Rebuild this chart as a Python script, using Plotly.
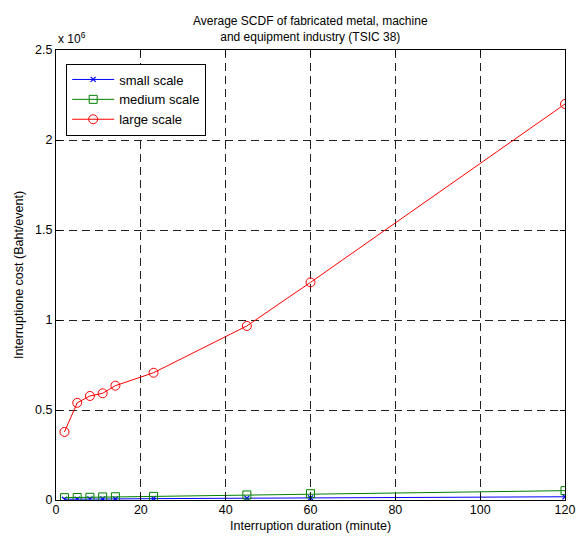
import plotly.graph_objects as go

# Interruption durations (minutes)
duration = [2, 5, 8, 11, 14, 23, 45, 60, 120]

# Average interruption cost per event (Baht)
small_scale = [4000, 5000, 5500, 6000, 6500, 7500, 10000, 12000, 18000]
medium_scale = [13000, 14000, 15000, 17000, 18000, 20000, 28000, 35000, 52000]
large_scale = [378000, 540000, 578000, 593000, 635000, 707000, 967000, 1209000, 2200000]

x_ticks = [0, 20, 40, 60, 80, 100, 120]
y_ticks = [0, 500000, 1000000, 1500000, 2000000, 2500000]
y_tick_text = ["0", "0.5", "1", "1.5", "2", "2.5"]

FONT = "Liberation Sans, Arial, sans-serif"

fig = go.Figure()
fig.add_trace(go.Scatter(
    x=duration, y=small_scale, name="small scale", mode="lines+markers",
    line=dict(color="#0000ff", width=1),
    marker=dict(symbol="x-thin", size=5, line=dict(color="#0000ff", width=1.2)),
))
fig.add_trace(go.Scatter(
    x=duration, y=medium_scale, name="medium scale", mode="lines+markers",
    line=dict(color="#008000", width=1),
    marker=dict(symbol="square-open", size=8, color="#008000", line=dict(width=1)),
))
fig.add_trace(go.Scatter(
    x=duration, y=large_scale, name="large scale", mode="lines+markers",
    line=dict(color="#ff0000", width=1),
    marker=dict(symbol="circle-open", size=9, color="#ff0000", line=dict(width=1)),
))

axis_common = dict(
    showline=True, linecolor="black", linewidth=1, mirror="allticks",
    ticks="inside", ticklen=5, tickcolor="black",
    showgrid=True, gridcolor="#222222", gridwidth=1, griddash="8px,5px",
    zeroline=False, tickfont=dict(family=FONT, size=12.5, color="black"),
    automargin=False,
)

fig.update_xaxes(range=[0, 120], tickvals=x_ticks, ticklabelstandoff=-2, **axis_common)
fig.update_yaxes(
    range=[0, 2500000], tickvals=y_ticks, ticktext=y_tick_text,
    title=dict(text="Interruptione cost (Baht/event)", font=dict(family=FONT, size=12.5, color="black"), standoff=8),
    **axis_common,
)

# x-axis title placed just under the tick labels
fig.add_annotation(
    x=0.5, y=0, xref="paper", yref="paper", xanchor="center", yanchor="top",
    text="Interruption duration (minute)", showarrow=False, yshift=-17,
    font=dict(family=FONT, size=12.5, color="black"),
)
fig.add_annotation(
    x=0, y=1, xref="paper", yref="paper", xanchor="left", yanchor="bottom",
    text="x 10<sup>6</sup>", showarrow=False, yshift=2,
    font=dict(family=FONT, size=12, color="black"),
)
fig.add_annotation(
    x=0.5, y=1, xref="paper", yref="paper", xanchor="center", yanchor="bottom",
    text="Average SCDF of fabricated metal, machine<br>and equipment industry (TSIC 38)",
    showarrow=False, yshift=4,
    font=dict(family=FONT, size=12, color="black"),
)

fig.update_layout(
    width=576, height=538,
    margin=dict(l=56, r=11, t=50, b=38),
    paper_bgcolor="white", plot_bgcolor="white",
    font=dict(family=FONT, size=12, color="black"),
    showlegend=True,
    legend=dict(
        x=0.02, y=0.97, xanchor="left", yanchor="top",
        bgcolor="white", bordercolor="black", borderwidth=1,
        font=dict(family=FONT, size=13, color="black"),
        itemwidth=42, tracegroupgap=0,
    ),
)

fig.write_html("out.html")
